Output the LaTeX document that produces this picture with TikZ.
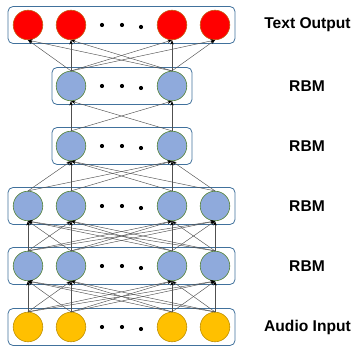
\documentclass[tikz,border=0pt]{standalone}
\usepackage{fontspec}
\setmainfont{Liberation Sans}
\usetikzlibrary{arrows.meta}

\definecolor{outred}{RGB}{255,0,0}
\definecolor{outrim}{RGB}{197,90,17}
\definecolor{hidblue}{RGB}{143,170,220}
\definecolor{hidrim}{RGB}{84,130,53}
\definecolor{inyellow}{RGB}{255,192,0}
\definecolor{inrim}{RGB}{191,144,0}
\definecolor{boxblue}{RGB}{65,113,156}
\definecolor{linkgray}{RGB}{80,80,80}

\tikzset{
  unit/.style={circle, minimum size=29.6pt, inner sep=0pt, line width=0.6pt},
  outunit/.style={unit, fill=outred, draw=outrim},
  hidunit/.style={unit, fill=hidblue, draw=hidrim},
  inunit/.style={unit, fill=inyellow, draw=inrim},
  layerbox/.style={draw=boxblue, line width=0.8pt, rounded corners=5pt},
  link/.style={draw=linkgray, line width=0.45pt, -{Stealth[length=4.5pt,width=3.4pt,color=black]}},
  tag/.style={font=\fontsize{15.6}{18}\selectfont\bfseries},
}

\begin{document}
\begin{tikzpicture}[x=1pt,y=-1pt]
  \useasboundingbox (0,0) rectangle (354,347);

  % the layer frames
  \draw[layerbox] (8,6.5) rectangle (235,43.5);
  \draw[layerbox] (52,67.5) rectangle (192,104.5);
  \draw[layerbox] (52,127.5) rectangle (192,164.5);
  \draw[layerbox] (8,187.5) rectangle (235,224.5);
  \draw[layerbox] (8,247.5) rectangle (235,284.5);
  \draw[layerbox] (8,308.5) rectangle (235,345.5);

  % text output layer
  \foreach \i/\x in {1/28,2/71,3/172,4/215}
    \node[outunit] (o\i) at (\x,25) {};

  % the two narrow RBM layers
  \foreach \i/\x in {2/71,3/172} {
    \node[hidunit] (a\i) at (\x,86) {};
    \node[hidunit] (b\i) at (\x,146) {};
  }

  % the two wide RBM layers
  \foreach \i/\x in {1/28,2/71,3/172,4/215} {
    \node[hidunit] (c\i) at (\x,206) {};
    \node[hidunit] (d\i) at (\x,266) {};
  }

  % audio input layer
  \foreach \i/\x in {1/28,2/71,3/172,4/215}
    \node[inunit] (s\i) at (\x,327) {};

  % the dots
  \foreach \y in {25,86,146,206,266,327} {
    \fill (102,\y) circle (2.1pt);
    \fill (122,\y) circle (2.1pt);
    \fill (141,\y+2) circle (2.1pt);
  }

  % connections, bottom to top
  \foreach \p in {1,2,3,4}
    \foreach \q in {1,2,3,4} {
      \draw[link] (s\p.north) -- (d\q.south);
      \draw[link] (d\p.north) -- (c\q.south);
    }
  \foreach \p in {1,2,3,4}
    \foreach \q in {2,3}
      \draw[link] (c\p.north) -- (b\q.south);
  \foreach \p in {2,3}
    \foreach \q in {2,3}
      \draw[link] (b\p.north) -- (a\q.south);
  \foreach \p in {2,3}
    \foreach \q in {1,2,3,4}
      \draw[link] (a\p.north) -- (o\q.south);

  % layer names
  \node[tag] (lblout) at (307.5,25) {Text Output};
  \node[tag] (lbla) at (307,86) {RBM};
  \node[tag] (lblb) at (307,146) {RBM};
  \node[tag] (lblc) at (307,206) {RBM};
  \node[tag] (lbld) at (307,266) {RBM};
  \node[tag] (lblin) at (307.5,327) {Audio Input};
\end{tikzpicture}
\end{document}
